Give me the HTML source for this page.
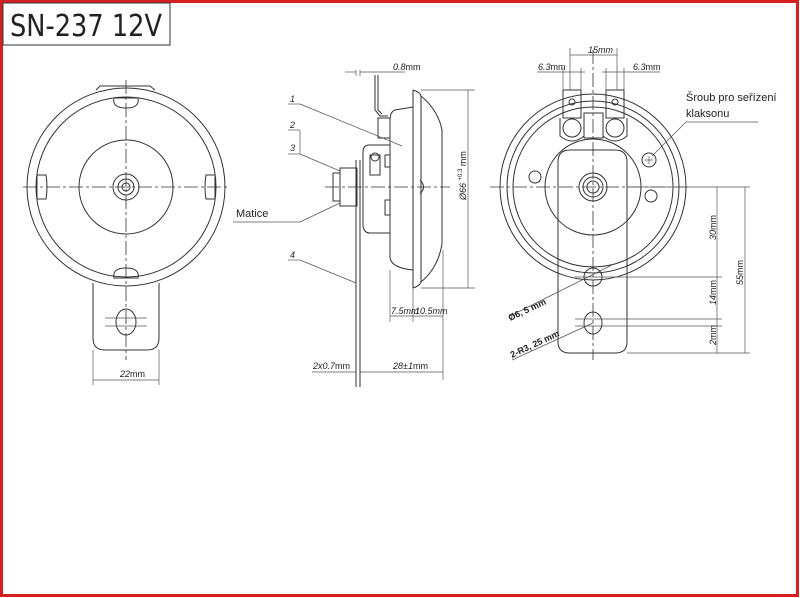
<!DOCTYPE html>
<html><head><meta charset="utf-8"><style>
html,body{margin:0;padding:0;background:#fff}
svg{display:block}
text{font-family:"Liberation Sans",sans-serif;fill:#222}
.l{stroke:#333;stroke-width:1;fill:none}
.t{stroke:#555;stroke-width:0.7;fill:none}
.c{stroke:#333;stroke-width:0.8;fill:none;stroke-dasharray:14 3 3 3}
.i{font-style:italic;font-size:9px}
</style></head><body>
<svg width="800" height="598" viewBox="0 0 800 598">
<rect x="1.5" y="1.5" width="796" height="594" fill="none" stroke="#d42020" stroke-width="3"/>
<rect x="3" y="3" width="167" height="42" fill="#fff" stroke="#333" stroke-width="1"/>
<text x="10" y="36" font-size="30" style="font-family:'DejaVu Sans Condensed','Liberation Sans',sans-serif;font-weight:200" textLength="152" lengthAdjust="spacingAndGlyphs">SN-237 12V</text>

<!-- LEFT VIEW -->
<g>
<path class="l" d="M96 90 L100 86 L150 86 L155 90"/>
<circle class="l" cx="126" cy="187" r="99"/>
<circle class="l" cx="126" cy="187" r="90"/>
<circle class="l" cx="126" cy="187" r="47"/>
<circle class="l" cx="126" cy="187" r="13"/>
<circle class="l" cx="126" cy="187" r="8"/>
<circle class="l" cx="126" cy="187" r="4"/>
<path class="l" d="M114 98 L138 98 Q140 108 126 108 Q112 108 114 98Z"/>
<path class="l" d="M114 278 L138 278 Q140 268 126 268 Q112 268 114 278Z"/>
<path class="l" d="M37 175 L46 175 Q48 187 46 199 L37 199Z"/>
<path class="l" d="M215 175 L206 175 Q204 187 206 199 L215 199Z"/>
<line class="c" x1="23" y1="187" x2="230" y2="187"/>
<line class="c" x1="126" y1="80" x2="126" y2="360"/>
<path class="l" d="M93 283 L93 338 Q93 350 105 350 L147 350 Q159 350 159 338 L159 283"/>
<ellipse class="l" cx="126" cy="322" rx="10" ry="13"/>
<line class="t" x1="105" y1="318" x2="147" y2="318"/><line class="t" x1="105" y1="326" x2="147" y2="326"/>
<line class="t" x1="93" y1="350" x2="93" y2="385"/><line class="t" x1="159" y1="350" x2="159" y2="385"/>
<line class="t" x1="93" y1="380" x2="159" y2="380"/>
<text x="120" y="377" class="i">22<tspan font-style="normal">mm</tspan></text>
</g>

<!-- MIDDLE VIEW -->
<g>
<line class="c" x1="325" y1="187" x2="450" y2="187"/>
<path class="l" d="M413 90 L413 288 M413 90 Q420 92 421 96 L421 282 Q420 286 413 288"/>
<path class="l" d="M421 96 Q438 110 442 130 L442 244 Q438 268 421 282"/>
<path class="l" d="M413 107 L395 110 Q390 112 390 120 L390 258 Q392 268 413 270"/>
<path class="l" d="M390 145 L368 145 Q363 146 363 152 L363 226 Q364 233 370 233 L390 233"/>
<path class="l" d="M420 180 Q427 187 420 194"/>
<rect class="l" x="385" y="155" width="5" height="12"/>
<rect class="l" x="385" y="200" width="5" height="15"/>
<path class="l" d="M375 75 L375 110 L380 116 L388 116 M378 75 L378 110 L382 114"/>
<rect class="l" x="378" y="118" width="12" height="20"/>
<rect class="l" x="370" y="155" width="10" height="20"/>
<circle class="l" cx="375" cy="157" r="4"/>
<rect class="l" x="340" y="168" width="17" height="38"/>
<rect class="l" x="333" y="173" width="7" height="28"/>
<path class="l" d="M356 160 L356 387 M360 160 L360 387"/>
<line class="t" x1="356" y1="70" x2="356" y2="76"/><line class="t" x1="360" y1="70" x2="360" y2="76"/>
<line class="t" x1="360" y1="72" x2="405" y2="72"/><line class="t" x1="345" y1="72" x2="356" y2="72"/>
<text x="393" y="70" class="i">0.8<tspan font-style="normal">mm</tspan></text>
<line class="t" x1="421" y1="90" x2="475" y2="90"/><line class="t" x1="421" y1="288" x2="475" y2="288"/>
<line class="t" x1="468" y1="90" x2="468" y2="288"/>
<text transform="translate(466,200) rotate(-90)" font-size="9"><tspan font-style="italic">Ø66</tspan> <tspan font-size="6" dy="-4">+0.3</tspan><tspan dy="4"> mm</tspan></text>
<line class="t" x1="390" y1="270" x2="390" y2="322"/><line class="t" x1="413" y1="288" x2="413" y2="322"/><line class="t" x1="443" y1="250" x2="443" y2="380"/>
<line class="t" x1="390" y1="316" x2="443" y2="316"/>
<text x="391" y="314" font-size="8" class="i">7.5mm</text><text x="415" y="314" font-size="8" class="i">10.5mm</text>
<line class="t" x1="360" y1="372" x2="443" y2="372"/><line class="t" x1="312" y1="372" x2="356" y2="372"/>
<text x="393" y="369" class="i">28±1<tspan font-style="normal">mm</tspan></text>
<text x="313" y="369" class="i">2x0.7<tspan font-style="normal">mm</tspan></text>
<line class="t" x1="288" y1="104" x2="300" y2="104"/><text x="290" y="102" class="i">1</text>
<line class="t" x1="300" y1="104" x2="402" y2="146"/>
<line class="t" x1="288" y1="130" x2="300" y2="130"/><text x="290" y="128" class="i">2</text>
<path class="t" d="M300 130 L300 154"/>
<line class="t" x1="288" y1="154" x2="300" y2="154"/><text x="290" y="151" class="i">3</text>
<line class="t" x1="300" y1="154" x2="340" y2="171"/>
<text x="236" y="217" font-size="11">Matice</text>
<line class="t" x1="233" y1="222" x2="300" y2="222"/><line class="t" x1="300" y1="222" x2="340" y2="203"/>
<line class="t" x1="288" y1="260" x2="300" y2="260"/><text x="290" y="258" class="i">4</text>
<line class="t" x1="300" y1="260" x2="356" y2="283"/>
</g>

<!-- RIGHT VIEW -->
<g>
<circle class="l" cx="593" cy="187" r="93"/>
<circle class="l" cx="593" cy="187" r="86"/>
<circle class="l" cx="593" cy="187" r="80"/>
<circle class="l" cx="593" cy="187" r="48"/>
<line class="c" x1="490" y1="187" x2="690" y2="187"/>
<line class="c" x1="593" y1="50" x2="593" y2="360"/>
<path class="l" d="M558 162 Q558 150 570 150 L615 150 Q627 150 627 162 L627 342 Q627 353 615 353 L570 353 Q558 353 558 342Z"/>
<rect class="l" x="563" y="90" width="18" height="28"/><circle class="l" cx="572" cy="102" r="3"/>
<rect class="l" x="606" y="90" width="18" height="28"/><circle class="l" cx="615" cy="102" r="3"/>
<path class="l" d="M560 118 L560 136 Q572 146 584 136 L584 118"/><circle class="l" cx="572" cy="128" r="9"/>
<path class="l" d="M603 118 L603 136 Q615 146 627 136 L627 118"/><circle class="l" cx="615" cy="128" r="9"/>
<rect class="l" x="584" y="113" width="19" height="25"/>
<circle class="l" cx="593" cy="187" r="14"/><circle class="l" cx="593" cy="187" r="10"/><circle class="l" cx="593" cy="187" r="6"/>
<circle class="l" cx="535" cy="177" r="6"/><circle class="l" cx="651" cy="196" r="6"/>
<circle class="l" cx="649" cy="160" r="7"/>
<path class="t" d="M645 160h8M649 156v8"/>
<circle class="l" cx="593" cy="277" r="9"/>
<ellipse class="l" cx="593" cy="323" rx="9" ry="11"/>
<line class="t" x1="575" y1="277" x2="722" y2="277"/>
<line class="t" x1="575" y1="319" x2="722" y2="319"/><line class="t" x1="575" y1="326" x2="722" y2="326"/>
<line class="t" x1="627" y1="187" x2="750" y2="187"/><line class="t" x1="627" y1="353" x2="750" y2="353"/>
<line class="t" x1="717" y1="187" x2="717" y2="353"/><line class="t" x1="745" y1="187" x2="745" y2="353"/>
<text transform="translate(716,240) rotate(-90)" class="i">30<tspan font-style="normal">mm</tspan></text>
<text transform="translate(716,305) rotate(-90)" class="i">14<tspan font-style="normal">mm</tspan></text>
<text transform="translate(716,345) rotate(-90)" class="i">2<tspan font-style="normal">mm</tspan></text>
<text transform="translate(743,285) rotate(-90)" class="i">55<tspan font-style="normal">mm</tspan></text>
<line class="t" x1="510" y1="316" x2="612" y2="265"/>
<text transform="translate(510,321) rotate(-25)" font-size="9" font-weight="bold">Ø6, 5 mm</text>
<line class="t" x1="512" y1="360" x2="593" y2="323"/>
<text transform="translate(512,358) rotate(-25)" font-size="9" font-weight="bold">2-R3, 25 mm</text>
<line class="t" x1="570" y1="48" x2="570" y2="90"/><line class="t" x1="617" y1="48" x2="617" y2="90"/>
<line class="t" x1="570" y1="55" x2="617" y2="55"/><text x="588" y="53" class="i">15mm</text>
<line class="t" x1="563" y1="68" x2="563" y2="90"/><line class="t" x1="581" y1="68" x2="581" y2="90"/>
<line class="t" x1="537" y1="72" x2="585" y2="72"/><text x="538" y="70" class="i">6.3<tspan font-style="normal">mm</tspan></text>
<line class="t" x1="606" y1="68" x2="606" y2="90"/><line class="t" x1="624" y1="68" x2="624" y2="90"/>
<line class="t" x1="602" y1="72" x2="660" y2="72"/><text x="633" y="70" class="i">6.3<tspan font-style="normal">mm</tspan></text>
<text x="686" y="101" font-size="11">Šroub pro seřízení</text>
<text x="686" y="117" font-size="11">klaksonu</text>
<line class="t" x1="686" y1="122" x2="758" y2="122"/><line class="t" x1="686" y1="122" x2="652" y2="156"/>
</g>
</svg>
</body></html>
